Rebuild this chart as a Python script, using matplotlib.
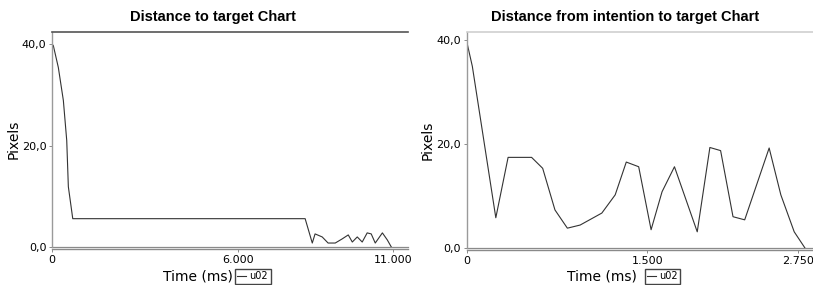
import matplotlib
matplotlib.use("Agg")
import matplotlib.pyplot as plt
from matplotlib.ticker import FuncFormatter, FixedLocator

# ---- data ----
left_time = [0, 42, 203, 365, 474, 526, 668, 8160, 8390, 8480, 8710, 8900, 9130,
             9350, 9550, 9680, 9840, 10000, 10160, 10290, 10420, 10650, 10810, 10940]
left_dist = [40.0, 39.7, 35.4, 28.9, 21.0, 11.9, 5.6, 5.6, 0.8, 2.6, 2.0, 0.8, 0.8,
             1.6, 2.4, 1.0, 2.0, 1.0, 2.8, 2.6, 0.8, 2.8, 1.4, 0.0]

right_time = [0, 47, 242, 344, 539, 631, 733, 836, 942, 1122, 1233, 1325, 1428, 1531,
              1622, 1725, 1914, 2019, 2108, 2211, 2308, 2511, 2608, 2719, 2808]
right_dist = [39.7, 34.9, 5.8, 17.4, 17.4, 15.3, 7.3, 3.8, 4.4, 6.7, 10.2, 16.5, 15.6, 3.5,
              10.8, 15.6, 3.1, 19.3, 18.7, 6.0, 5.4, 19.2, 10.2, 3.1, 0.0]

left_xticks = [0, 6000, 11000]
right_xticks = [0, 1500, 2750]
yticks = [0, 20, 40]
series_name = "u02"

fig = plt.figure(figsize=(8.13, 2.85), dpi=100)

yfmt = FuncFormatter(lambda v, p: f"{v:.1f}".replace(".", ","))
xfmt = FuncFormatter(lambda v, p: f"{int(v):,}".replace(",", "."))


def setup(ax, xmax, ymax, xticks, top_color):
    ax.set_xlim(0, xmax)
    ax.set_ylim(0, ymax)
    ax.xaxis.set_major_locator(FixedLocator(xticks))
    ax.yaxis.set_major_locator(FixedLocator(yticks))
    ax.xaxis.set_major_formatter(xfmt)
    ax.yaxis.set_major_formatter(yfmt)
    ax.tick_params(labelsize=8, length=2, width=0.6, color="#777777", pad=2)
    ax.spines["right"].set_visible(False)
    ax.spines["top"].set_color(top_color)
    ax.spines["top"].set_linewidth(1.2)
    ax.spines["left"].set_color("#9a9a9a")
    ax.spines["left"].set_linewidth(1.0)
    ax.spines["bottom"].set_color("#8a8a8a")
    ax.spines["bottom"].set_linewidth(1.0)
    ax.spines["bottom"].set_position(("outward", 1.5))
    ax.axhline(0, color="#8a8a8a", lw=0.9, clip_on=False, zorder=1)


# ======= left chart =======
ax1 = fig.add_axes([0.064, 0.133, 0.438, 0.755])
ln1, = ax1.plot(left_time, left_dist, color="#333333", lw=0.8, label=series_name)
setup(ax1, 11480, 42.4, left_xticks, "#555555")
fig.text(0.262, 0.94, "Distance to target Chart", ha="center", va="center",
         fontsize=10.5, fontweight="bold", family="Liberation Sans")
ax1.set_ylabel("Pixels", fontsize=10, labelpad=1)
fig.text(0.243, 0.03, "Time (ms)", ha="center", va="center", fontsize=10)
fig.legend(handles=[ln1], loc="center", bbox_to_anchor=(0.311, 0.03),
           fontsize=7, handlelength=0.9, handletextpad=0.35, borderpad=0.25,
           fancybox=False, edgecolor="#444444", framealpha=1)

# ======= right chart =======
ax2 = fig.add_axes([0.574, 0.130, 0.426, 0.758])
ln2, = ax2.plot(right_time, right_dist, color="#333333", lw=0.8, label=series_name)
setup(ax2, 2875, 41.5, right_xticks, "#d0d0d0")
fig.text(0.769, 0.94, "Distance from intention to target Chart", ha="center",
         va="center", fontsize=10.5, fontweight="bold", family="Liberation Sans")
ax2.set_ylabel("Pixels", fontsize=10, labelpad=1)
fig.text(0.741, 0.03, "Time (ms)", ha="center", va="center", fontsize=10)
fig.legend(handles=[ln2], loc="center", bbox_to_anchor=(0.815, 0.03),
           fontsize=7, handlelength=0.9, handletextpad=0.35, borderpad=0.25,
           fancybox=False, edgecolor="#444444", framealpha=1)

fig.savefig("out.png", dpi=100)
